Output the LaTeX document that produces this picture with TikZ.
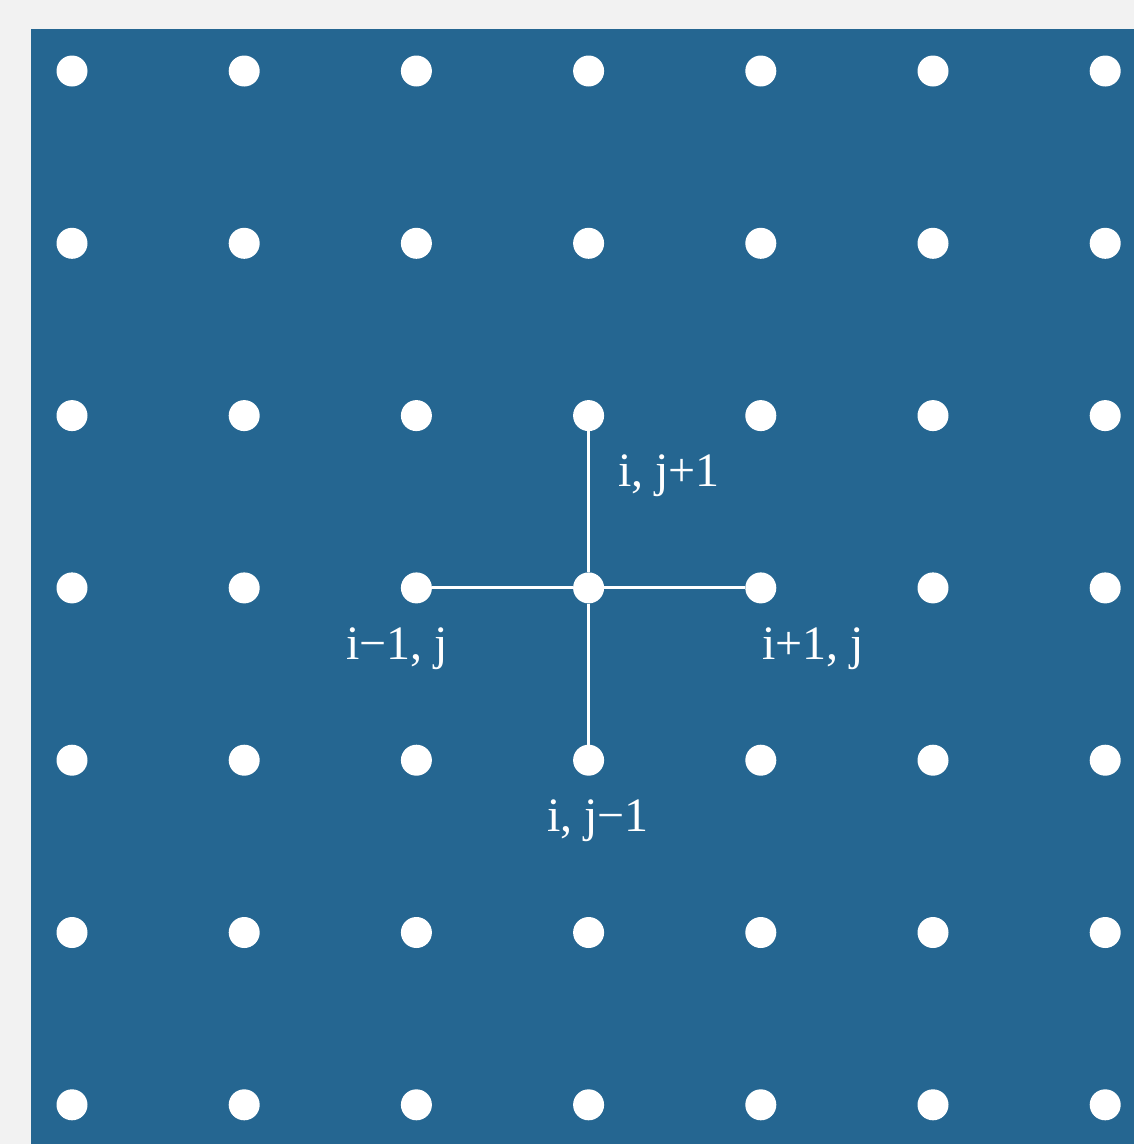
\documentclass[tikz,border=0pt]{standalone}
\usepackage{fontspec}
\setmainfont{Liberation Serif}
\definecolor{bgblue}{RGB}{37,102,145}
\definecolor{paper}{RGB}{242,242,242}
\begin{document}
\begin{tikzpicture}[x=1pt,y=-1pt,
  dot/.style={circle,fill=white,draw=none,minimum size=31pt,inner sep=0pt},
  link/.style={draw=white,line width=3pt},
  lbl/.style={text=white,inner sep=0pt,anchor=base west,font=\fontsize{48}{48}\selectfont}]
\fill[paper] (0,0) rectangle (1134,1144);
\useasboundingbox (0,0) rectangle (1134,1144);
\fill[bgblue] (31,29) rectangle (1134,1144);
\foreach \i in {0,...,6}{
  \foreach \j in {0,...,6}{
    \node[dot] (d-\i-\j) at ({72+172.2*\i},{71+172.3*\j}) {};
  }
}
\draw[link] (d-3-3) -- (d-3-2);
\draw[link] (d-3-3) -- (d-3-4);
\draw[link] (d-3-3) -- (d-2-3);
\draw[link] (d-3-3) -- (d-4-3);
\node[lbl] (top) at (618,486) {i, j+1};
\node[lbl] (left) at (346,659) {i−1, j};
\node[lbl] (right) at (762,659) {i+1, j};
\node[lbl] (bot) at (547,831) {i, j−1};
\end{tikzpicture}
\end{document}
